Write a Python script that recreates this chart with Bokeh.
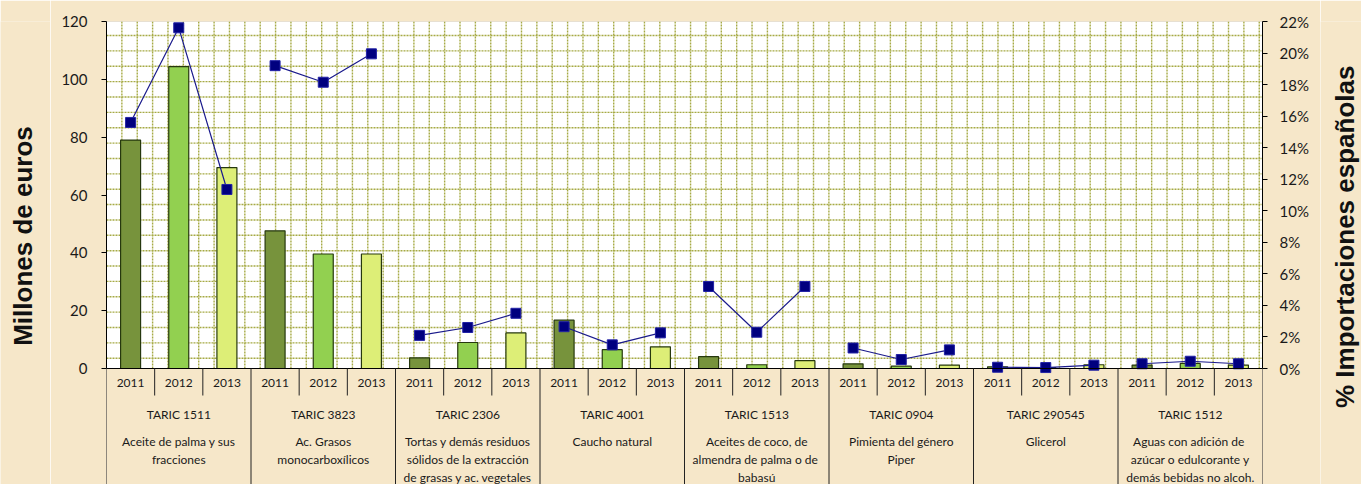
import numpy as np
from math import pi
from bokeh.plotting import figure
from bokeh.layouts import row
from bokeh.models import (Range1d, LinearAxis, FixedTicker, PrintfTickFormatter,
                          BoxAnnotation)
from bokeh.core.properties import value
from bokeh.embed import file_html
from bokeh.resources import INLINE

# ---------------- data ----------------
groups = ["TARIC 1511", "TARIC 3823", "TARIC 2306", "TARIC 4001",
          "TARIC 1513", "TARIC 0904", "TARIC 290545", "TARIC 1512"]
descriptions = [
    "Aceite de palma y sus\nfracciones",
    "Ac. Grasos\nmonocarboxílicos",
    "Tortas y demás residuos\nsólidos de la extracción\nde grasas y ac. vegetales",
    "Caucho natural",
    "Aceites de coco, de\nalmendra de palma  o de\nbabasú",
    "Pimienta del género\nPiper",
    "Glicerol",
    "Aguas con adición  de\nazúcar o edulcorante y\ndemás bebidas no alcoh.",
]
years = ["2011", "2012", "2013"]

# Millones de euros
euros_2011 = [79.0, 47.6, 3.7, 16.7, 4.1, 1.6, 0.6, 1.2]
euros_2012 = [104.4, 39.6, 9.0, 6.5, 1.3, 0.8, 0.3, 1.75]
euros_2013 = [69.5, 39.6, 12.3, 7.5, 2.7, 1.2, 1.3, 1.2]

# % importaciones españolas
pct_2011 = [15.6, 19.2, 2.1, 2.65, 5.2, 1.3, 0.08, 0.3]
pct_2012 = [21.6, 18.15, 2.6, 1.5, 2.3, 0.57, 0.06, 0.46]
pct_2013 = [11.35, 19.95, 3.5, 2.26, 5.2, 1.18, 0.21, 0.3]

left_ticks = [0, 20, 40, 60, 80, 100, 120]
right_ticks = [0, 2, 4, 6, 8, 10, 12, 14, 16, 18, 20, 22]
Y_MAX, PCT_MAX = 120, 22
left_title = "Millones de euros"
right_title = "% Importaciones españolas"

# ---------------- layout / styles ----------------
W, H = 1361, 484
W_LEFT, W_RIGHT = 50, 41                # side strips holding the axis titles
W_MAIN = W - W_LEFT - W_RIGHT
TOP, LEFT, RIGHT = 21, 56, 58           # px borders of the main figure
PLOT_H = 347                            # px height of the value area
BELOW = H - TOP - PLOT_H                # px of category band below the axis
PX = Y_MAX / PLOT_H                     # value units per pixel (left scale)
PPX = PCT_MAX / PLOT_H                  # pct units per pixel (right scale)

BG = "#F6E7C9"
BAR_COLORS = ["#77933C", "#92D050", "#DDEE77"]
BAR_EDGE = "#26380E"
NAVY = "#00007F"
GRID = "#A6AA45"
LABEL_FONT = "Lato"
TITLE_FONT = "Liberation Sans"

n_groups = len(groups)
n_years = len(years)
n_cat = n_groups * n_years

euros = [euros_2011, euros_2012, euros_2013]
pcts = [pct_2011, pct_2012, pct_2013]

xs, tops, cols, year_txt = [], [], [], []
for g in range(n_groups):
    for j in range(n_years):
        xs.append(g * n_years + j + 0.5)
        tops.append(euros[j][g])
        cols.append(BAR_COLORS[j])
        year_txt.append(years[j])

y_low = -BELOW * PX
p = figure(width=W_MAIN, height=H, title=None,
           x_range=Range1d(0, n_cat), y_range=Range1d(y_low, Y_MAX),
           output_backend="svg", toolbar_location=None,
           min_border_left=LEFT, min_border_right=RIGHT,
           min_border_top=TOP, min_border_bottom=0,
           background_fill_color=BG, border_fill_color=BG,
           outline_line_color=None)
p.extra_y_ranges = {"pct": Range1d(-BELOW * PPX, PCT_MAX)}
p.xaxis.visible = False
p.xgrid.visible = False
p.ygrid.visible = False

# white plot area with grey top border
p.add_layout(BoxAnnotation(left=0, right=n_cat, bottom=0, top=Y_MAX,
                           fill_color="white", fill_alpha=1,
                           line_color="#808080", line_width=1,
                           level="underlay"))

# pattern-like dotted grid (15.37 px cells)
cell = 15.37
plot_w = W_MAIN - LEFT - RIGHT
vgrid = [k * cell / (plot_w / n_cat) for k in range(1, 76)]
hgrid = [Y_MAX - (14 + k * cell) * PX for k in range(22)]
p.segment(x0=vgrid, x1=vgrid, y0=[0] * len(vgrid), y1=[Y_MAX] * len(vgrid),
          line_color=GRID, line_width=1.4, line_dash="2 1")
p.segment(x0=[0] * len(hgrid), x1=[n_cat] * len(hgrid), y0=hgrid, y1=hgrid,
          line_color=GRID, line_width=1.4, line_dash="2 1")

# bars
p.vbar(x=xs, top=tops, bottom=0, width=0.415,
       fill_color=cols, line_color=BAR_EDGE, line_width=1.2)

# percentage lines (one per group)
for g in range(n_groups):
    gx = [g * n_years + j + 0.5 for j in range(n_years)]
    gy = [pcts[j][g] for j in range(n_years)]
    p.line(gx, gy, line_color="#1A1A8C", line_width=1.2, y_range_name="pct")
    p.scatter(gx, gy, marker="square", size=10, fill_color=NAVY,
              line_color="#2222A6", line_width=1, y_range_name="pct")

# category axis line and separators
p.segment(x0=[0], x1=[n_cat], y0=[0], y1=[0], line_color="black", line_width=1)
short = [i for i in range(1, n_cat) if i % n_years != 0]
long_ = list(range(0, n_cat + 1, n_years))
p.segment(x0=short, x1=short, y0=[0] * len(short), y1=[-27 * PX] * len(short),
          line_color="#222222", line_width=1)
p.segment(x0=long_, x1=long_, y0=[0] * len(long_), y1=[y_low] * len(long_),
          line_color="#222222", line_width=1)

# category labels
p.text(x=xs, y=[-14 * PX] * n_cat, text=year_txt,
       text_align="center", text_baseline="middle",
       text_font=value(LABEL_FONT), text_font_size="12px", text_color="#1a1a1a")
gx_c = [g * n_years + 1.5 for g in range(n_groups)]
p.text(x=gx_c, y=[-46 * PX] * n_groups, text=groups,
       text_align="center", text_baseline="middle",
       text_font=value(LABEL_FONT), text_font_size="12px", text_color="#1a1a1a")
p.text(x=gx_c, y=[-65.5 * PX] * n_groups, text=descriptions,
       text_align="center", text_baseline="top", text_line_height=1.215,
       text_font=value(LABEL_FONT), text_font_size="12px", text_color="#1a1a1a")

# left axis
ya = p.yaxis[0]
ya.ticker = FixedTicker(ticks=left_ticks)
ya.bounds = (0, Y_MAX)
ya.major_tick_in = 0
ya.major_tick_out = 5
ya.minor_tick_line_color = None
ya.major_label_standoff = 14
ya.major_label_text_font = LABEL_FONT
ya.major_label_text_font_size = "15px"
ya.major_label_text_color = "#1a1a1a"
ya.axis_line_color = "black"
ya.major_tick_line_color = "black"

# right axis
ra = LinearAxis(y_range_name="pct", ticker=FixedTicker(ticks=right_ticks),
                formatter=PrintfTickFormatter(format="%d%%"))
ra.bounds = (0, PCT_MAX)
ra.major_tick_in = 0
ra.major_tick_out = 5
ra.minor_tick_line_color = None
ra.major_label_standoff = 12
ra.major_label_text_font = LABEL_FONT
ra.major_label_text_font_size = "15px"
ra.major_label_text_color = "#1a1a1a"
ra.axis_line_color = "black"
ra.major_tick_line_color = "black"
p.add_layout(ra, "right")


# side strips carrying the two vertical axis titles (pixel coordinates)
def title_strip(width, text, mid_x, start_y):
    f = figure(width=width, height=H, title=None, x_range=Range1d(0, width),
               y_range=Range1d(0, H), x_axis_type=None, y_axis_type=None,
               output_backend="svg", toolbar_location=None,
               min_border=0, min_border_top=0, min_border_bottom=0,
               min_border_left=0, min_border_right=0,
               background_fill_color=BG, border_fill_color=BG,
               outline_line_color=None)
    f.text(x=[mid_x], y=[H - start_y], text=[text], angle=pi / 2,
           text_align="left", text_baseline="middle",
           text_font=value(TITLE_FONT), text_font_size="26px",
           text_font_style="bold", text_color="#111111")
    return f


left_fig = title_strip(W_LEFT, left_title, 22, 339)
right_fig = title_strip(W_RIGHT, right_title, 1344 - (W - W_RIGHT), 404)

layout = row(left_fig, p, right_fig, spacing=0)

open("out.html", "w").write(file_html(layout, INLINE))
